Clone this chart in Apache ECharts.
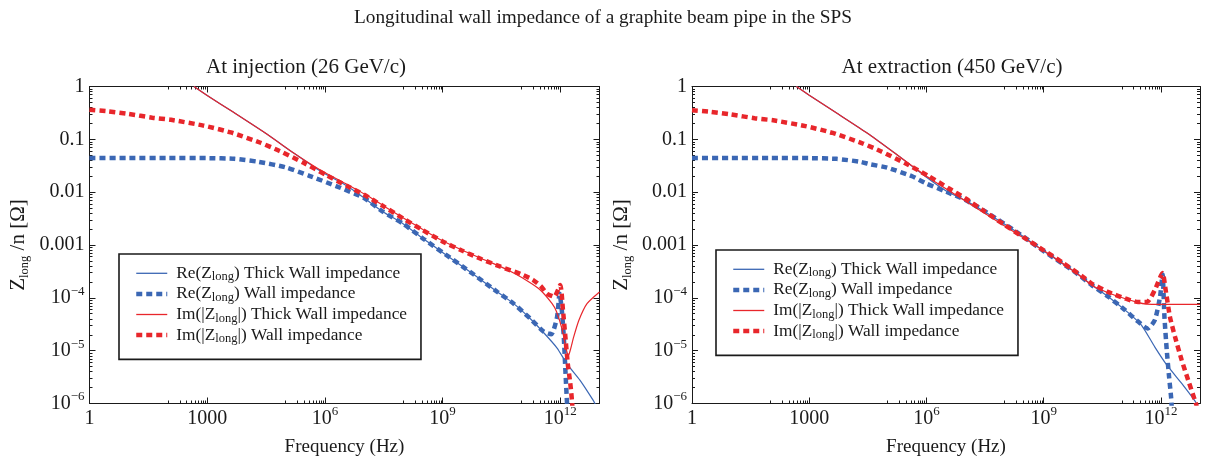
<!DOCTYPE html>
<html>
<head>
<meta charset="utf-8">
<script src="https://cdn.jsdelivr.net/npm/echarts@6/dist/echarts.min.js"></script>
<style>
html, body { margin: 0; padding: 0; background: #fff; }
#chart { width: 1205px; height: 459px; }
</style>
</head>
<body>
<div id="chart"></div>
<script>
// ---- values: frequency (Hz) and Z_long/n (Ohm) ----

// At injection (26 GeV/c)
var injReThickF = [460, 1e3, 4.7e3, 3.3e4, 1.6e5, 7.6e5, 3.6e6, 1e7, 3e7, 1e8, 3.5e8, 1e9, 6e9, 2.5e10, 6.5e10, 1.7e11, 4e11, 8.3e11, 1.48e12, 3.2e12, 6.8e12, 8e12];
var injReThickZ = [1.0, 0.676, 0.324, 0.126, 0.0550, 0.0251, 0.0132, 0.00776, 0.00427, 0.00251, 0.00126, 7.24e-4, 2.82e-4, 1.29e-4, 7.76e-5, 4.07e-5, 2.09e-5, 1.12e-5, 5.62e-6, 2.75e-6, 1.17e-6, 9.33e-7];

var injReWallF = [1, 10, 100, 1e3, 5e3, 2e4, 1e5, 4e5, 2e6, 1e7, 3e7, 1e8, 3.5e8, 1e9, 6e9, 2.5e10, 6.5e10, 1.7e11, 3.8e11, 5.9e11, 8.3e11, 9.6e11, 1.1e12, 1.23e12, 1.35e12, 1.48e12, 1.6e12];
var injReWallZ = [0.0443, 0.0443, 0.0443, 0.0441, 0.0427, 0.0376, 0.0295, 0.0204, 0.0129, 0.00776, 0.00427, 0.00251, 0.00126, 7.24e-4, 2.82e-4, 1.29e-4, 7.76e-5, 4.07e-5, 2.29e-5, 2.04e-5, 4.37e-5, 1.20e-4, 5.62e-5, 1.82e-5, 4.27e-6, 1.07e-6, 3.98e-7];

var injImThickF = [460, 1e3, 4.7e3, 3.3e4, 1.6e5, 7.6e5, 3.6e6, 1.45e7, 3e7, 1e8, 3e8, 1e9, 3e9, 1e10, 3e10, 6.5e10, 1.6e11, 3.1e11, 6.2e11, 8e11, 1.12e12, 1.4e12, 1.62e12, 1.86e12, 2.2e12, 3e12, 4.8e12, 1e13];
var injImThickZ = [1.0, 0.676, 0.324, 0.126, 0.0550, 0.0263, 0.0141, 0.00794, 0.00562, 0.00324, 0.00200, 0.00120, 8.13e-4, 5.50e-4, 3.89e-4, 2.95e-4, 2.00e-4, 1.41e-4, 7.76e-5, 5.50e-5, 2.51e-5, 1.12e-5, 8.13e-6, 1.12e-5, 1.82e-5, 3.80e-5, 7.76e-5, 1.29e-4];

var injImWallF = [1, 3, 10, 40, 120, 800, 4e3, 2.2e4, 7e4, 2.8e5, 1.1e6, 3.6e6, 1e7, 3e7, 1e8, 3e8, 1e9, 3e9, 1e10, 3e10, 1e11, 2e11, 3.2e11, 4.6e11, 7e11, 1e12, 1.17e12, 1.35e12, 1.55e12, 1.8e12, 2e12, 2.1e12];
var injImWallZ = [0.363, 0.339, 0.302, 0.257, 0.234, 0.182, 0.135, 0.0871, 0.0603, 0.0363, 0.0209, 0.0132, 0.00891, 0.00550, 0.00316, 0.00195, 0.00117, 7.94e-4, 5.37e-4, 3.89e-4, 2.82e-4, 2.19e-4, 1.66e-4, 1.20e-4, 1.05e-4, 1.74e-4, 5.89e-5, 1.82e-5, 5.75e-6, 2.40e-6, 1.07e-6, 5.01e-7];

// At extraction (450 GeV/c)
var extReThickF = [470, 1e3, 4.7e3, 3.3e4, 1.6e5, 1e6, 3.2e6, 1e7, 3.1e7, 2e8, 1.07e9, 6.3e9, 1.7e10, 4.5e10, 1.45e11, 3.2e11, 7e11, 1.41e12, 3.4e12, 7.4e12, 8.9e12];
var extReThickZ = [1.0, 0.684, 0.324, 0.126, 0.0537, 0.0191, 0.0105, 0.00692, 0.00427, 0.00178, 7.41e-4, 3.09e-4, 1.74e-4, 1.05e-4, 5.25e-5, 3.02e-5, 1.17e-5, 5.37e-6, 2.40e-6, 1.12e-6, 8.91e-7];

var extReWallF = [1, 10, 100, 1e3, 5e3, 2e4, 3.5e4, 1e5, 4.3e5, 1e6, 3.2e6, 1e7, 3.1e7, 2e8, 1.07e9, 6.3e9, 1.7e10, 4.5e10, 1.2e11, 2.6e11, 4.6e11, 7e11, 9.5e11, 1.1e12, 1.23e12, 1.41e12, 1.62e12, 1.82e12, 1.9e12];
var extReWallZ = [0.0443, 0.0443, 0.0443, 0.0441, 0.0427, 0.0376, 0.0340, 0.0290, 0.0200, 0.0145, 0.0102, 0.00708, 0.00437, 0.00178, 7.41e-4, 3.09e-4, 1.74e-4, 1.05e-4, 5.89e-5, 3.55e-5, 2.63e-5, 3.80e-5, 1.05e-4, 2.75e-4, 4.37e-5, 1.02e-5, 3.16e-6, 1.32e-6, 7.94e-7];

var extImThickF = [470, 1e3, 4.7e3, 3.3e4, 1.6e5, 1e6, 1e7, 1e8, 1.07e9, 6.3e9, 2e10, 6.6e10, 2.4e11, 4.4e11, 1e12, 1e13];
var extImThickZ = [1.0, 0.684, 0.324, 0.126, 0.0537, 0.0200, 0.00676, 0.00229, 7.59e-4, 3.09e-4, 1.62e-4, 1.12e-4, 8.32e-5, 7.59e-5, 7.50e-5, 7.50e-5];

var extImWallF = [1, 3, 10, 40, 120, 800, 4e3, 2.2e4, 7e4, 2.8e5, 1.1e6, 3.6e6, 1e7, 3e7, 1e8, 3e8, 1e9, 3e9, 1e10, 1.7e10, 4.5e10, 1.2e11, 2.6e11, 4.4e11, 7e11, 1.1e12, 1.32e12, 1.7e12, 2.3e12, 3.4e12, 5e12, 7.4e12, 8.3e12];
var extImWallZ = [0.355, 0.331, 0.295, 0.251, 0.229, 0.178, 0.132, 0.0851, 0.0589, 0.0355, 0.0204, 0.0120, 0.00759, 0.00437, 0.00240, 0.00141, 7.94e-4, 4.68e-4, 2.51e-4, 1.86e-4, 1.29e-4, 9.77e-5, 8.32e-5, 8.32e-5, 1.41e-4, 2.95e-4, 1.41e-4, 4.37e-5, 1.82e-5, 6.61e-6, 2.75e-6, 1.15e-6, 8.91e-7];

// tick positions
var xMajorTicks = [1, 1e3, 1e6, 1e9, 1e12];
var yMajorTicks = [1e-6, 1e-5, 1e-4, 1e-3, 0.01, 0.1, 1];

var seriesNames = [
    'Re(Z_long) Thick Wall impedance',
    'Re(Z_long) Wall impedance',
    'Im(|Z_long|) Thick Wall impedance',
    'Im(|Z_long|) Wall impedance'
];

var FONT = 'Liberation Serif';
var INK = '#1a1a1a';
var BLUE = '#3b67b4';
var RED = '#e8262b';

// minor ticks: the decade under each labelled x tick, every decade in y
var xMinorTicks = [];
[2, 5, 8, 11].forEach(function (e) {
    for (var j = 1; j <= 9; j++) xMinorTicks.push(j * Math.pow(10, e));
});
var yMinorTicks = [];
for (var e = -6; e < 0; e++) {
    for (var j = 2; j <= 9; j++) yMinorTicks.push(j * Math.pow(10, e));
}

function pairs(f, z) {
    return f.map(function (v, i) { return [v, z[i]]; });
}

function xLabel(v) {
    var e = Math.round(Math.log10(v));
    if (e === 0) return '1';
    if (e === 3) return '1000';
    return '10{sup|' + e + '}';
}

function yLabel(v) {
    var e = Math.round(Math.log10(v));
    if (e === 0) return '1';
    if (e === -1) return '0.1';
    if (e === -2) return '0.01';
    if (e === -3) return '0.001';
    return '10{sup|\u2212' + (-e) + '}';
}

var supStyle = { sup: { fontSize: 13, lineHeight: 13, verticalAlign: 'top', fontFamily: FONT, color: INK } };
var subStyle = { sub: { fontSize: 12.5, lineHeight: 12, verticalAlign: 'bottom', fontFamily: FONT, color: INK } };

function mkAxis(g, isX, pos, ticks, len, showLine) {
    return {
        type: 'log',
        gridIndex: g,
        position: pos,
        min: isX ? 1 : 1e-6,
        max: isX ? 1e13 : 1,
        splitLine: { show: false },
        axisLine: { show: showLine, onZero: false, lineStyle: { color: INK, width: 1 } },
        axisTick: { show: true, inside: true, length: len, customValues: ticks, lineStyle: { color: INK, width: 1 } },
        axisLabel: { show: false }
    };
}

var xAxes = [], yAxes = [];
[0, 1].forEach(function (g) {
    var xb = mkAxis(g, true, 'bottom', xMajorTicks, 6, true);
    xb.axisLabel = {
        show: true, customValues: xMajorTicks, formatter: xLabel, margin: 2,
        color: INK, fontFamily: FONT, fontSize: 20, lineHeight: 26, rich: supStyle
    };
    xb.name = 'Frequency (Hz)';
    xb.nameLocation = 'middle';
    xb.nameGap = 34;
    xb.nameTextStyle = { color: INK, fontFamily: FONT, fontSize: 19 };
    xAxes.push(xb);
    xAxes.push(mkAxis(g, true, 'bottom', xMinorTicks, 3, false));
    xAxes.push(mkAxis(g, true, 'top', xMajorTicks, 6, true));
    xAxes.push(mkAxis(g, true, 'top', xMinorTicks, 3, false));

    var yl = mkAxis(g, false, 'left', yMajorTicks, 6, true);
    yl.axisLabel = {
        show: true, customValues: yMajorTicks, formatter: yLabel, margin: 5,
        color: INK, fontFamily: FONT, fontSize: 20, lineHeight: 26, rich: supStyle
    };
    yl.name = 'Z{sub|long} /n [\u03A9]';
    yl.nameLocation = 'middle';
    yl.nameRotate = 90;
    yl.nameGap = 58;
    yl.nameTextStyle = { color: INK, fontFamily: FONT, fontSize: 21, lineHeight: 26, rich: subStyle };
    yAxes.push(yl);
    yAxes.push(mkAxis(g, false, 'left', yMinorTicks, 3, false));
    yAxes.push(mkAxis(g, false, 'right', yMajorTicks, 6, true));
    yAxes.push(mkAxis(g, false, 'right', yMinorTicks, 3, false));
});

function mkSeries(g, idx, f, z) {
    var thick = idx % 2 === 0;
    return {
        name: seriesNames[idx],
        type: 'line',
        xAxisIndex: g * 4,
        yAxisIndex: g * 4,
        data: pairs(f, z),
        symbol: 'none',
        showSymbol: false,
        smooth: 0.2,
        clip: true,
        z: 2 + idx,
        lineStyle: {
            color: idx < 2 ? BLUE : RED,
            width: thick ? 1.2 : 4.5,
            type: thick ? 'solid' : [6, 4],
            cap: 'butt'
        },
        itemStyle: { color: idx < 2 ? BLUE : RED }
    };
}

function mkLegend(left, top) {
    return {
        data: seriesNames.map(function (n, i) {
            return { name: n, lineStyle: { width: i % 2 === 0 ? 1.3 : 4.5 } };
        }),
        orient: 'vertical',
        left: left,
        top: top,
        padding: [9, 14, 14, 15],
        itemGap: 0,
        itemWidth: 31,
        itemHeight: 14,
        borderColor: INK,
        borderWidth: 1.6,
        borderRadius: 0,
        backgroundColor: '#fff',
        selectedMode: false,
        itemStyle: { opacity: 0 },
        formatter: function (n) { return n.replace('_long', '{sub|long}'); },
        textStyle: {
            color: INK, fontFamily: FONT, fontSize: 17.3, lineHeight: 20.6,
            padding: [0, 0, 0, 4], rich: subStyle
        }
    };
}

var chart = echarts.init(document.getElementById('chart'), null, { renderer: 'canvas' });

chart.setOption({
    animation: false,
    backgroundColor: '#fff',
    grid: [
        { left: 89.5, top: 86.5, width: 510, height: 317, outerBoundsMode: 'none' },
        { left: 692, top: 86.5, width: 508, height: 317, outerBoundsMode: 'none' }
    ],
    xAxis: xAxes,
    yAxis: yAxes,
    legend: [mkLegend(119, 254), mkLegend(716, 250)],
    graphic: [
        { type: 'text', x: 603, y: 18, style: { text: 'Longitudinal wall impedance of a graphite beam pipe in the SPS', font: '19.3px "Liberation Serif"', fill: INK, align: 'center', verticalAlign: 'middle', textAlign: 'center', textVerticalAlign: 'middle' } },
        { type: 'text', x: 306, y: 67, style: { text: 'At injection (26 GeV/c)', font: '21px "Liberation Serif"', fill: INK, align: 'center', verticalAlign: 'middle', textAlign: 'center', textVerticalAlign: 'middle' } },
        { type: 'text', x: 952, y: 67, style: { text: 'At extraction (450 GeV/c)', font: '21px "Liberation Serif"', fill: INK, align: 'center', verticalAlign: 'middle', textAlign: 'center', textVerticalAlign: 'middle' } }
    ],
    series: [
        mkSeries(0, 0, injReThickF, injReThickZ),
        mkSeries(0, 1, injReWallF, injReWallZ),
        mkSeries(0, 2, injImThickF, injImThickZ),
        mkSeries(0, 3, injImWallF, injImWallZ),
        mkSeries(1, 0, extReThickF, extReThickZ),
        mkSeries(1, 1, extReWallF, extReWallZ),
        mkSeries(1, 2, extImThickF, extImThickZ),
        mkSeries(1, 3, extImWallF, extImWallZ)
    ]
});
</script>
</body>
</html>
